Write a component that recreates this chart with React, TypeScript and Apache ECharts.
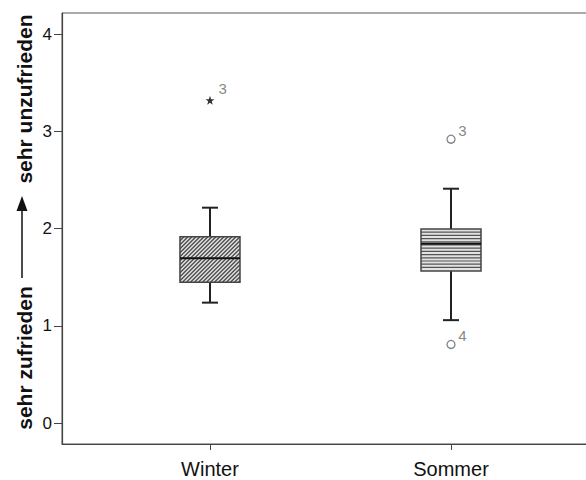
import React, { useEffect, useRef } from "react";
import * as echarts from "echarts";

// ---- data ----
const categories = ["Winter", "Sommer"];
const categoryPositions = [1, 2];
// [low whisker, Q1, median, Q3, high whisker]
const winterBox = [1.24, 1.45, 1.695, 1.918, 2.216];
const sommerBox = [1.06, 1.565, 1.846, 1.997, 2.411];
// outliers: [value, case label]
const winterOutliers: [number, string][] = [[3.32, "3"]];
const sommerOutliers: [number, string][] = [[2.92, "3"], [0.81, "4"]];
const yTicks = [0, 1, 2, 3, 4];
const yTitleLow = "sehr zufrieden";
const yTitleHigh = "sehr unzufrieden";

const FONT = "'Liberation Sans', Arial, Helvetica, sans-serif";
const STAR =
  "path://M50,0 L61.8,35.1 L97.6,34.5 L69,56.1 L79.4,90.5 L50,70 L20.6,90.5 L31,56.1 L2.4,34.5 L38.2,35.1 Z";

export default function App() {
  const ref = useRef<HTMLDivElement>(null);

  useEffect(() => {
    if (!ref.current) return;
    const chart = echarts.init(ref.current, null, { renderer: "svg" });

    const boxData = [
      [categoryPositions[0], ...winterBox, 0],
      [categoryPositions[1], ...sommerBox, 1],
    ];

    const renderItem = (params: any, api: any) => {
      const x = api.value(0);
      const low = api.coord([x, api.value(1)]);
      const q1 = api.coord([x, api.value(2)]);
      const med = api.coord([x, api.value(3)]);
      const q3 = api.coord([x, api.value(4)]);
      const high = api.coord([x, api.value(5)]);
      const pattern = api.value(6);
      const cx = low[0];
      const hw = 30;
      const capHw = 8;
      const x0 = cx - hw;
      const x1 = cx + hw;
      const y0 = q3[1];
      const y1 = q1[1];
      const children: any[] = [];
      // whiskers
      children.push({
        type: "line",
        shape: { x1: cx, y1: high[1], x2: cx, y2: y0 },
        style: { stroke: "#222", lineWidth: 2 },
      });
      children.push({
        type: "line",
        shape: { x1: cx, y1: y1, x2: cx, y2: low[1] },
        style: { stroke: "#222", lineWidth: 2 },
      });
      children.push({
        type: "line",
        shape: { x1: cx - capHw, y1: high[1], x2: cx + capHw, y2: high[1] },
        style: { stroke: "#222", lineWidth: 2 },
      });
      children.push({
        type: "line",
        shape: { x1: cx - capHw, y1: low[1], x2: cx + capHw, y2: low[1] },
        style: { stroke: "#222", lineWidth: 2 },
      });
      // box background
      children.push({
        type: "rect",
        shape: { x: x0, y: y0, width: x1 - x0, height: y1 - y0 },
        style: { fill: "#e2e2e2", stroke: null },
      });
      // stripes
      if (pattern === 0) {
        const step = 4;
        for (let c = x0 + y0 + step; c < x1 + y1; c += step) {
          const xa = Math.max(x0, c - y1);
          const xb = Math.min(x1, c - y0);
          if (xb - xa > 0.3) {
            children.push({
              type: "line",
              shape: { x1: xa, y1: c - xa, x2: xb, y2: c - xb },
              style: { stroke: "#4a4a4a", lineWidth: 1.3 },
            });
          }
        }
      } else {
        const step = 3.2;
        for (let y = y0 + step; y < y1 - 0.5; y += step) {
          children.push({
            type: "line",
            shape: { x1: x0, y1: y, x2: x1, y2: y },
            style: { stroke: "#555", lineWidth: 1.2 },
          });
        }
      }
      // box border
      children.push({
        type: "rect",
        shape: { x: x0, y: y0, width: x1 - x0, height: y1 - y0 },
        style: { fill: null, stroke: "#444", lineWidth: 1.5 },
      });
      // median
      children.push({
        type: "line",
        shape: { x1: x0, y1: med[1], x2: x1, y2: med[1] },
        style: { stroke: "#111", lineWidth: 2 },
      });
      return { type: "group", children };
    };

    const outlierLabel = (pos: number[]) => ({
      show: true,
      formatter: (p: any) => p.value[2],
      position: pos as any,
      align: "left",
      verticalAlign: "middle",
      color: "#666",
      fontSize: 15,
      fontFamily: FONT,
    });

    chart.setOption({
      animation: false,
      backgroundColor: "#ffffff",
      grid: {
        left: 62,
        top: 13,
        width: 537,
        height: 431,
        show: true,
        borderColor: "#555",
        borderWidth: 1,
        backgroundColor: "transparent",
      },
      xAxis: {
        type: "value",
        min: 0.386,
        max: 2.614,
        splitLine: { show: false },
        axisLine: { show: true, onZero: false, lineStyle: { color: "#444", width: 1.2 } },
        axisTick: {
          show: true,
          length: 6,
          customValues: categoryPositions,
          lineStyle: { color: "#444" },
        },
        axisLabel: {
          customValues: categoryPositions,
          formatter: (v: number) => categories[categoryPositions.indexOf(v)] ?? "",
          color: "#111",
          fontSize: 20,
          fontFamily: FONT,
          margin: 15,
        },
      },
      yAxis: {
        type: "value",
        min: -0.213,
        max: 4.217,
        splitLine: { show: false },
        axisLine: { show: true, onZero: false, lineStyle: { color: "#444", width: 1.2 } },
        axisTick: {
          show: true,
          length: 8,
          customValues: yTicks,
          lineStyle: { color: "#444" },
        },
        axisLabel: {
          customValues: yTicks,
          color: "#111",
          fontSize: 17,
          fontFamily: FONT,
          margin: 10,
        },
      },
      series: [
        {
          type: "custom",
          renderItem,
          data: boxData,
          encode: { x: 0, y: [1, 2, 3, 4, 5] },
          clip: false,
          silent: true,
        },
        {
          type: "scatter",
          data: winterOutliers.map((o) => [categoryPositions[0], o[0], o[1]]),
          symbol: STAR,
          symbolSize: 9,
          itemStyle: { color: "#000" },
          label: outlierLabel([13, -7]),
        },
        {
          type: "scatter",
          data: sommerOutliers.map((o) => [categoryPositions[1], o[0], o[1]]),
          symbol: "circle",
          symbolSize: 8,
          itemStyle: { color: "#fff", borderColor: "#666", borderWidth: 1.3 },
          label: outlierLabel([12, -4]),
        },
      ],
      graphic: [
        {
          type: "text",
          x: 24,
          y: 358,
          rotation: Math.PI / 2,
          style: {
            text: yTitleLow,
            fontSize: 21,
            fontWeight: "bold",
            fontFamily: FONT,
            fill: "#111",
            align: "center",
            verticalAlign: "middle",
          },
        },
        {
          type: "text",
          x: 24,
          y: 99,
          rotation: Math.PI / 2,
          style: {
            text: yTitleHigh,
            fontSize: 21,
            fontWeight: "bold",
            fontFamily: FONT,
            fill: "#111",
            align: "center",
            verticalAlign: "middle",
          },
        },
        {
          type: "line",
          shape: { x1: 22, y1: 278, x2: 22, y2: 208 },
          style: { stroke: "#111", lineWidth: 1.5 },
        },
        {
          type: "polygon",
          shape: { points: [[22, 196], [16.5, 211], [27.5, 211]] },
          style: { fill: "#111" },
        },
      ],
    });

    return () => chart.dispose();
  }, []);

  return (
    <div
      style={{
        position: "absolute",
        left: 0,
        top: 0,
        width: 586,
        height: 480,
        overflow: "hidden",
      }}
    >
      <div ref={ref} style={{ width: 604, height: 480 }} />
    </div>
  );
}
